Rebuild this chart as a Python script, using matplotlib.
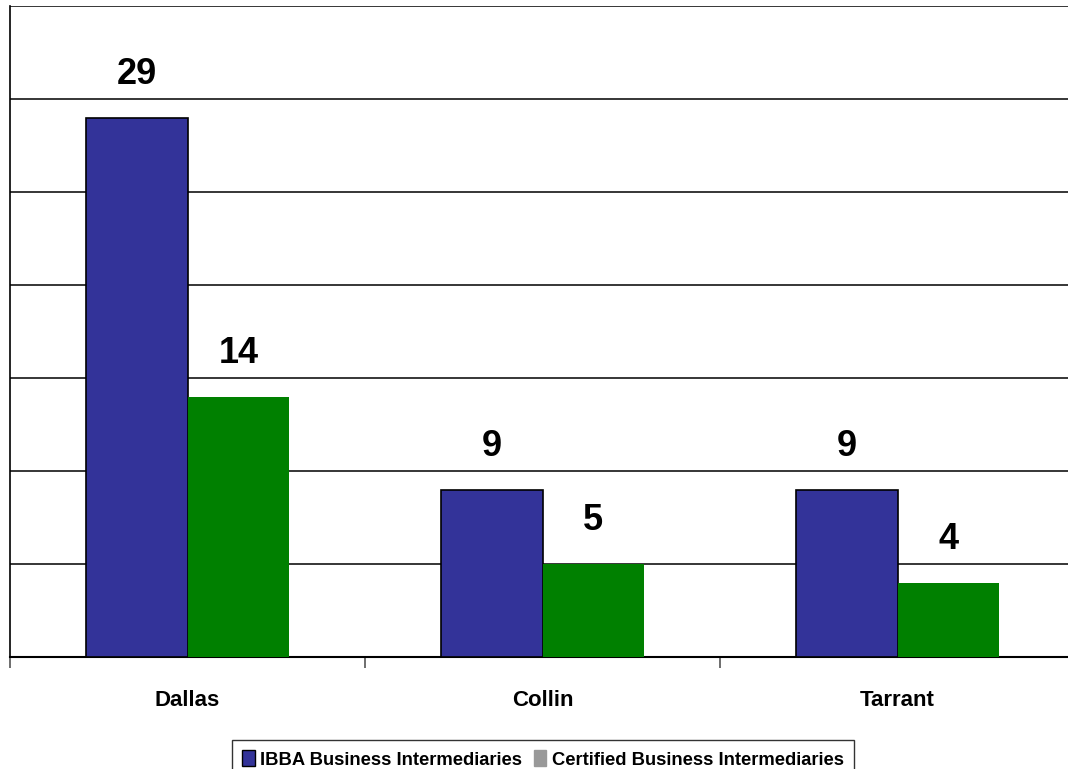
import numpy as np
import matplotlib.pyplot as plt
from matplotlib.patches import Patch

counties = ['Dallas', 'Collin', 'Tarrant']
ibba = [29, 9, 9]
certified = [14, 5, 4]
series_names = ['IBBA Business Intermediaries', 'Certified Business Intermediaries']

plt.rcParams['font.family'] = ['Liberation Sans', 'DejaVu Sans']

W, H = 1068, 769
fig = plt.figure(figsize=(W / 100, H / 100), dpi=100)
ax = fig.add_axes([10 / W, (H - 657) / H, 1065 / W, (657 - 6) / H])

x = np.arange(len(counties))
bw = 0.287
blue = '#333399'
green = '#008000'

b1 = ax.bar(x - bw / 2, ibba, bw, color=blue, edgecolor='black', linewidth=1.2, zorder=3)
b2 = ax.bar(x + bw / 2, certified, bw, color=green, edgecolor=green, linewidth=0, zorder=3)

for bars, vals in ((b1, ibba), (b2, certified)):
    for rect, v in zip(bars, vals):
        ax.annotate(str(v), (rect.get_x() + rect.get_width() / 2, v),
                    xytext=(0, 31), textcoords='offset points',
                    ha='center', va='center', fontsize=26, fontweight='bold')

ax.set_xlim(-0.5, 2.5)
ax.set_ylim(0, 35)
ax.set_yticks(np.arange(0, 36, 5))
ax.yaxis.grid(True, color='black', linewidth=1.1, zorder=0)
ax.tick_params(axis='y', length=0, labelleft=False)

ax.set_xticks([-0.5, 0.5, 1.5, 2.5])
ax.set_xticklabels([])
ax.tick_params(axis='x', which='major', length=8, width=1.2, color='#555555', direction='out')
ax.set_xticks(x, minor=True)
ax.set_xticklabels(counties, minor=True, fontsize=16, fontweight='bold')
ax.tick_params(axis='x', which='minor', length=0, pad=24)

for s in ['top', 'right']:
    ax.spines[s].set_visible(False)
ax.spines['left'].set_linewidth(1.2)
ax.spines['bottom'].set_linewidth(1.5)

handles = [Patch(facecolor=blue, edgecolor='black', linewidth=1.0),
           Patch(facecolor='#999999', edgecolor='#999999')]
leg = fig.legend(handles, series_names, loc='upper center', ncol=2,
                 bbox_to_anchor=(543 / W, 1 - 740 / H), frameon=True, fancybox=False,
                 prop={'weight': 'bold', 'size': 13.2}, handlelength=0.7, handleheight=1.0,
                 handletextpad=0.3, columnspacing=0.6, borderpad=0.55, borderaxespad=0)
leg.get_frame().set_edgecolor('black')
leg.get_frame().set_linewidth(1.0)

fig.savefig('out.png', dpi=100)
